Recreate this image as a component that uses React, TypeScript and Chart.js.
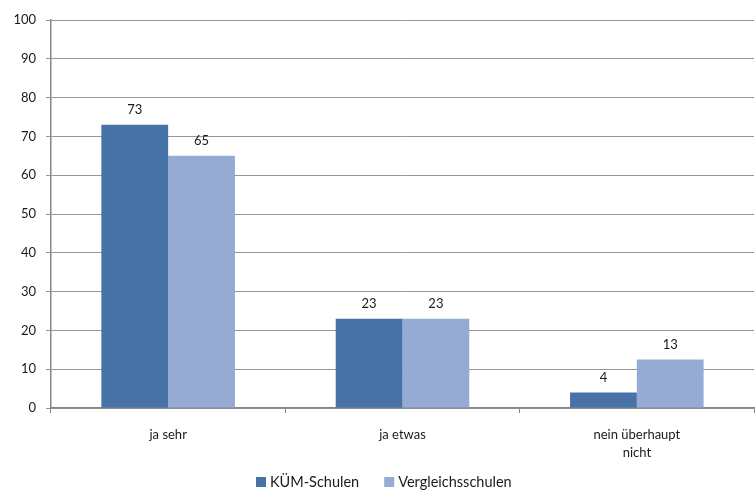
import React, { useEffect, useRef } from "react";
import { Chart, registerables } from "chart.js";

Chart.register(...registerables);

const categories: (string | string[])[] = ["ja sehr", "ja etwas", ["nein überhaupt", "nicht"]];
const kuemValues = [73, 23, 4];
const vergleichValues = [65, 23, 12.5];
const seriesNames = ["KÜM-Schulen", "Vergleichsschulen"];
const seriesColors = ["#4672A8", "#95ABD3"];
const yTicks = [0, 10, 20, 30, 40, 50, 60, 70, 80, 90, 100];

const FONT = "Lato, 'Open Sans', sans-serif";

const valueLabels = {
  id: "valueLabels",
  afterDatasetsDraw(chart: any) {
    const ctx = chart.ctx;
    ctx.save();
    ctx.fillStyle = "#1a1a1a";
    ctx.font = `13px ${FONT}`;
    ctx.textAlign = "center";
    ctx.textBaseline = "bottom";
    chart.data.datasets.forEach((ds: any, i: number) => {
      const meta = chart.getDatasetMeta(i);
      meta.data.forEach((bar: any, j: number) => {
        ctx.fillText(String(Math.round(ds.data[j])), bar.x, bar.y - 8);
      });
    });
    ctx.restore();
  },
};

const bottomLegend = {
  id: "bottomLegend",
  afterDraw(chart: any) {
    const ctx = chart.ctx;
    ctx.save();
    ctx.font = `14.5px ${FONT}`;
    ctx.textBaseline = "middle";
    ctx.textAlign = "left";
    let x = 256;
    const y = 482;
    chart.data.datasets.forEach((ds: any) => {
      ctx.fillStyle = ds.backgroundColor;
      ctx.fillRect(x, y - 5, 10, 10);
      ctx.fillStyle = "#1a1a1a";
      ctx.fillText(ds.label, x + 14, y);
      x += 14 + ctx.measureText(ds.label).width + 25;
    });
    ctx.restore();
  },
};

export default function App() {
  const ref = useRef<HTMLCanvasElement>(null);
  useEffect(() => {
    const chart = new Chart(ref.current!, {
      type: "bar",
      data: {
        labels: categories,
        datasets: [
          {
            label: seriesNames[0],
            data: kuemValues,
            backgroundColor: seriesColors[0],
            borderWidth: 0,
            categoryPercentage: 0.57,
            barPercentage: 1,
          },
          {
            label: seriesNames[1],
            data: vergleichValues,
            backgroundColor: seriesColors[1],
            borderWidth: 0,
            categoryPercentage: 0.57,
            barPercentage: 1,
          },
        ],
      },
      options: {
        animation: false,
        responsive: false,
        layout: { padding: { top: 20, right: 1, left: 0, bottom: 0 } },
        plugins: {
          legend: { display: false },
          tooltip: { enabled: false },
        },
        scales: {
          x: {
            offset: true,
            grid: { offset: true, drawOnChartArea: false, drawTicks: true, tickLength: 5, color: "#868686" },
            border: { color: "#868686", width: 1.5 },
            ticks: { color: "#1a1a1a", font: { family: FONT, size: 13, lineHeight: 1.45 }, padding: 12 },
            afterFit: (s: any) => { s.height = 82; },
          } as any,
          y: {
            min: 0,
            max: 100,
            afterBuildTicks: (s: any) => { s.ticks = yTicks.map((v) => ({ value: v })); },
            grid: { color: "#969696", tickLength: 5 },
            border: { color: "#868686", width: 1.5 },
            ticks: { color: "#1a1a1a", font: { family: FONT, size: 13 }, padding: 10 },
            afterFit: (s: any) => { s.width = 51; },
          } as any,
        },
      } as any,
      plugins: [valueLabels, bottomLegend],
    });
    return () => chart.destroy();
  }, []);
  return (
    <div style={{ position: "fixed", left: 0, top: 0, width: 755, height: 490, background: "#fff" }}>
      <canvas ref={ref} width={755} height={490} />
    </div>
  );
}
